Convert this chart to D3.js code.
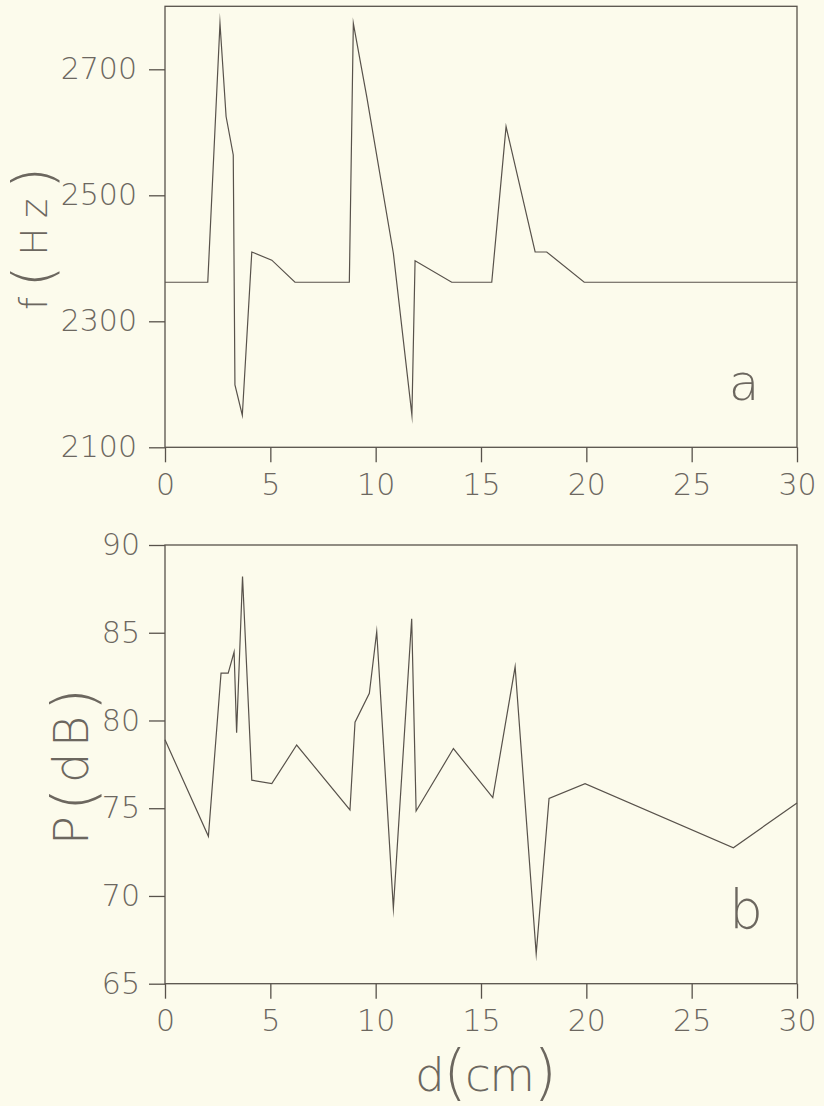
<!DOCTYPE html>
<html>
<head>
<meta charset="utf-8">
<script src="https://cdn.jsdelivr.net/npm/d3@7"></script>
<style>
  html, body { margin: 0; padding: 0; background: #fcfbec; }
  svg { display: block; }
  text { font-family: "DejaVu Sans", sans-serif; font-weight: 200; fill: #6c675f; }
</style>
</head>
<body>
<svg id="chart" width="824" height="1106"></svg>
<script>
// Distance along the tube (cm)
const distTicks = [0, 5, 10, 15, 20, 25, 30];

// Panel a: resonance frequency f (Hz) vs. distance d (cm)
const fDist = [0, 2.03, 2.61, 2.9, 3.24, 3.32, 3.67, 4.12, 5.07, 6.17, 8.75, 8.94, 9.58, 10.84, 11.72, 11.87, 13.61, 15.51, 16.19, 17.57, 18.12, 19.9, 30];
const fHz   = [2362, 2362, 2773, 2625, 2564, 2199, 2151, 2410, 2397, 2362, 2362, 2773, 2656, 2408, 2151, 2396, 2362, 2362, 2609, 2410, 2410, 2362, 2362];
const fTicks = [2100, 2300, 2500, 2700];

// Panel b: sound pressure level P (dB) vs. distance d (cm)
const pDist = [0, 2.06, 2.66, 3.0, 3.28, 3.4, 3.68, 4.12, 5.07, 6.25, 8.78, 9.02, 9.7, 10.05, 10.84, 11.71, 11.92, 13.69, 15.56, 16.62, 17.62, 18.23, 19.94, 26.98, 30];
const pDb   = [78.9, 73.4, 82.7, 82.7, 83.9, 79.3, 88.2, 76.6, 76.4, 78.6, 74.9, 79.9, 81.55, 85.06, 69.3, 85.8, 74.84, 78.4, 75.6, 83.06, 66.7, 75.56, 76.4, 72.75, 75.3];
const pTicks = [65, 70, 75, 80, 85, 90];

const INK = "#58524b";
const svg = d3.select("#chart");

const x = d3.scaleLinear().domain([0, 30]).range([165, 797]);
const yF = d3.scaleLinear().domain([2100, 2800]).range([447.3, 6.3]);
const yP = d3.scaleLinear().domain([65, 90]).range([983.7, 545]);

function panel(yScale, ticks, xs, ys, padLeft) {
  const g = svg.append("g");
  const [y0, y1] = yScale.range();

  // frame
  g.append("rect")
    .attr("x", x(0)).attr("y", y1)
    .attr("width", x(30) - x(0)).attr("height", y0 - y1)
    .attr("fill", "none").attr("stroke", INK).attr("stroke-width", 1.3);

  // bottom axis
  const ax = g.append("g").attr("transform", `translate(0,${y0})`)
    .call(d3.axisBottom(x).tickValues(distTicks).tickFormat(d3.format("d"))
      .tickSize(15).tickSizeOuter(0).tickPadding(11));
  // left axis
  const ay = g.append("g").attr("transform", `translate(${x(0)},0)`)
    .call(d3.axisLeft(yScale).tickValues(ticks).tickFormat(d3.format("d"))
      .tickSize(16).tickSizeOuter(0).tickPadding(padLeft));

  [ax, ay].forEach(a => {
    a.select(".domain").remove();
    a.selectAll(".tick line").attr("stroke", INK).attr("stroke-width", 1.3);
    a.selectAll(".tick text").attr("font-size", 30).attr("fill", "#6c675f")
      .style("font-family", '"DejaVu Sans", sans-serif').style("font-weight", 200);
  });

  // data trace
  const line = d3.line().x(d => x(d[0])).y(d => yScale(d[1]));
  g.append("path")
    .datum(xs.map((v, i) => [v, ys[i]]))
    .attr("d", line)
    .attr("fill", "none").attr("stroke", INK).attr("stroke-width", 1.2)
    .attr("stroke-linejoin", "miter").attr("stroke-miterlimit", 20);
  return g;
}

panel(yF, fTicks, fDist, fHz, 12);
panel(yP, pTicks, pDist, pDb, 9);

// Axis titles built from letters with tall parentheses
function title(tx, ty, rot, parts, size, parenSize, parenDrop, length) {
  const t = svg.append("text")
    .attr("transform", `translate(${tx},${ty}) rotate(${rot})`)
    .attr("text-anchor", "middle")
    .attr("textLength", length).attr("lengthAdjust", "spacing");
  let shift = 0;
  parts.split("").forEach(ch => {
    const paren = ch === "(" || ch === ")";
    const target = paren ? parenDrop : 0;
    t.append("tspan")
      .attr("font-size", paren ? parenSize : size)
      .attr("dy", target - shift)
      .text(ch);
    shift = target;
  });
}

title(47, 238.5, -90, "f(Hz)", 37, 56, 5, 143);
title(88, 766.5, -90, "P(dB)", 48, 58, 6.4, 157);
title(486, 1091, 0, "d(cm)", 47, 60, 2, 142);

// Panel letters
svg.append("text").attr("x", 744).attr("y", 400).attr("text-anchor", "middle")
  .attr("font-size", 50).text("a");
svg.append("text").attr("x", 746).attr("y", 928).attr("text-anchor", "middle")
  .attr("font-size", 53).text("b");
</script>
</body>
</html>
